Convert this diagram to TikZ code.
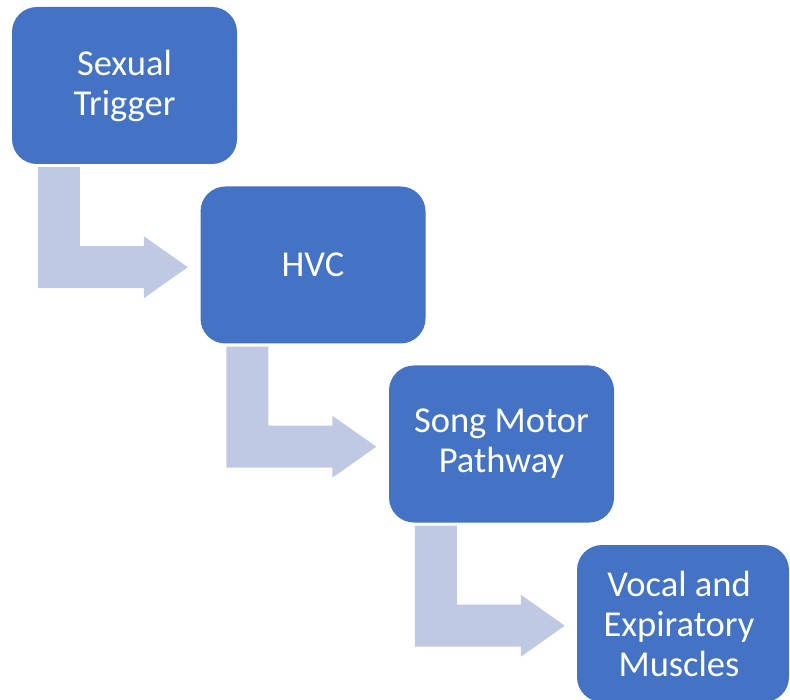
\documentclass[tikz,border=0pt]{standalone}
\usepackage{fontspec}
\setmainfont{Carlito}
\usetikzlibrary{calc}
\definecolor{boxblue}{HTML}{4472C4}
\definecolor{arrowblue}{HTML}{C0C9E4}
\begin{document}
\begin{tikzpicture}[x=1pt,y=-1pt,
  box/.style={fill=boxblue, draw=none, rounded corners=25pt, minimum width=225pt, minimum height=157pt,
    inner sep=0pt, align=center, text=white, font=\fontsize{36.5}{40}\selectfont},
  bentarrow/.style={fill=arrowblue, draw=none}]
\useasboundingbox (0,0) rectangle (790,700);
\node[box] (b1) at (124.5,85.5) {Sexual\\Trigger};
\node[box] (b2) at (313,265) {HVC};
\node[box] (b3) at (501.5,444) {Song Motor\\Pathway};
\node[box, minimum width=212pt] (b4) at (683,623.5) {\hspace*{-8pt}Vocal and\\\hspace*{-8pt}Expiratory\\\hspace*{-8pt}Muscles};
\foreach \b in {b1,b2,b3}{
  \fill[bentarrow]
    ($(\b.south west)+(26,3)$) -- ($(\b.south west)+(68,3)$) -- ($(\b.south west)+(68,82)$)
    -- ($(\b.south west)+(132,82)$) -- ($(\b.south west)+(132,72)$) -- ($(\b.south west)+(176,103)$)
    -- ($(\b.south west)+(132,134)$) -- ($(\b.south west)+(132,124)$) -- ($(\b.south west)+(26,124)$) -- cycle;
}
\end{tikzpicture}
\end{document}
